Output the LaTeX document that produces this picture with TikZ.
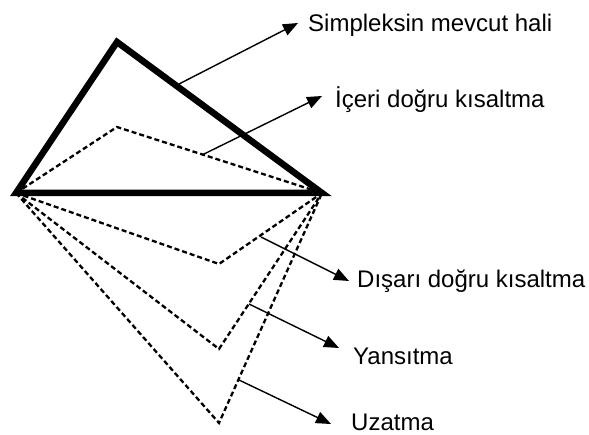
\documentclass[tikz,border=0pt]{standalone}
\usepackage{fontspec}
\setmainfont{Liberation Sans}
\usetikzlibrary{arrows.meta}
\begin{document}
\begin{tikzpicture}[x=1pt,y=-1pt,
  thickline/.style={line width=6.5pt,line join=miter,line cap=rect},
  dashline/.style={line width=2.3pt,dash pattern=on 5pt off 3pt},
  pointer/.style={line width=1.4pt,-{Triangle[length=15pt,width=12pt]}},
  lbl/.style={anchor=base west,inner sep=0pt,font=\fontsize{24}{28}\selectfont}]
\useasboundingbox (0,0) rectangle (589,435);
% vertices
\coordinate (T) at (117,42);
\coordinate (L) at (16,193);
\coordinate (R) at (322,193);
\coordinate (I) at (117,127);
\coordinate (O) at (219,264);
\coordinate (Y) at (219,349);
\coordinate (U) at (219,423);
% dashed shapes
\draw[dashline] (L) -- (I) -- (R);
\draw[dashline] (L) -- (O) -- (R);
\draw[dashline] (L) -- (Y) -- (R);
\draw[dashline] (L) -- (U) -- (R);
% current simplex
\draw[thickline] (L) -- (T) -- (R) -- cycle;
% labels
\node[lbl] (l1) at (308,32) {Simpleksin mevcut hali};
\node[lbl] (l2) at (335,108) {İçeri doğru kısaltma};
\node[lbl] (l3) at (357,288) {Dışarı doğru kısaltma};
\node[lbl] (l4) at (353,365) {Yansıtma};
\node[lbl] (l5) at (351,431) {Uzatma};
% arrow start and tip points
\coordinate (s1) at (179,84);
\coordinate (t1) at (298,23);
\coordinate (s2) at (202,155);
\coordinate (t2) at (322,96);
\coordinate (s3) at (261,237);
\coordinate (t3) at (349,281);
\coordinate (s4) at (249,304);
\coordinate (t4) at (339,348);
\coordinate (s5) at (239,380);
\coordinate (t5) at (331,424);
\draw[pointer] (s1) -- (t1);
\draw[pointer] (s2) -- (t2);
\draw[pointer] (s3) -- (t3);
\draw[pointer] (s4) -- (t4);
\draw[pointer] (s5) -- (t5);
\end{tikzpicture}
\end{document}
